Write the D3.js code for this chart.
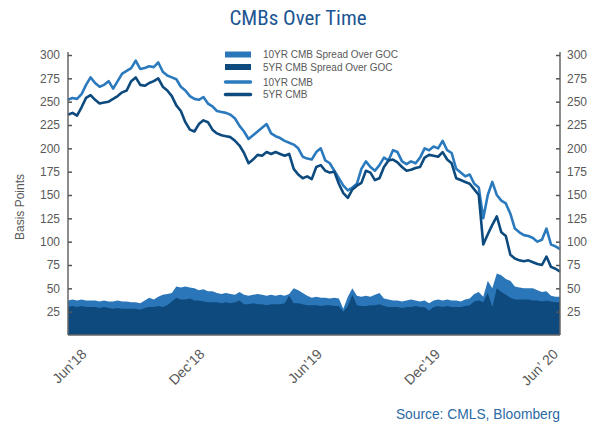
<!DOCTYPE html>
<html>
<head>
<meta charset="utf-8">
<script src="https://cdn.jsdelivr.net/npm/d3@7"></script>
<style>
  body { margin: 0; background: #fff; }
  text { font-family: "Liberation Sans", Arial, sans-serif; }
</style>
</head>
<body>
<div id="chart"></div>
<script>
// weekly observations, starting 11 May 2018
const startDate = "2018-05-11";

const cmb10 = [252,254,253,258,268,276,270,266,268,272, 264,272,280,283,286,294,285,286,288,287,
  292,282,278,276,274,266,262,256,253,252, 255,248,245,240,239,238,236,232,224,218,
  210,214,218,222,226,216,213,211,208,206, 204,200,191,189,188,196,200,187,184,176,
  168,160,155,158,162,178,186,180,176,182, 190,187,198,196,186,183,186,184,190,200,
  198,202,200,208,198,195,178,174,170,172, 162,158,125,150,164,150,144,141,130,114,
  110,107,106,104,100,102,114,97,95,92];

const cmb5 = [236,238,235,244,254,257,252,248,249,250, 253,256,260,262,272,276,268,267,270,272,
  275,266,262,256,246,240,228,220,218,226, 230,228,220,216,214,213,212,208,203,195,
  184,188,193,192,196,194,196,194,192,194, 178,172,168,170,167,180,182,176,174,175,
  162,152,147,156,160,163,176,174,166,168, 180,187,188,185,180,176,177,179,180,190,
  193,192,191,196,188,184,168,166,164,162, 156,150,97,108,118,127,110,106,86,82,
  80,79,80,78,76,75,84,73,71,68];

const spread10 = [37,38,37,38,37,37,37,36,37,36, 36,37,36,36,35,35,34,37,40,38,
  41,43,44,45,52,51,52,51,50,48, 49,47,47,45,44,45,44,43,46,43,
  42,43,44,43,42,43,42,43,42,44, 50,48,45,42,40,41,40,40,39,40,
  39,28,41,50,42,41,42,41,43,45, 39,38,37,37,36,37,38,37,36,37,
  34,37,38,37,38,37,37,36,38,39, 44,46,41,58,50,66,64,60,58,52,
  51,50,50,50,48,46,47,42,41,41];

const spread5 = [30,31,30,31,30,30,30,29,30,29, 28,29,28,28,28,28,27,29,30,30,
  31,30,32,36,40,38,38,39,37,37, 36,35,35,35,34,35,34,35,37,33,
  33,34,33,33,32,33,33,33,34,42, 34,34,33,32,32,32,31,32,32,31,
  31,25,31,43,32,31,31,32,32,33, 31,30,30,30,29,30,30,31,30,30,
  26,30,31,30,31,30,30,30,31,32, 36,37,35,45,30,50,46,43,40,38,
  38,38,38,37,37,36,37,36,35,35];

const yTicks = [25,50,75,100,125,150,175,200,225,250,275,300];
const xTickDates = ["2018-06-01","2018-12-01","2019-06-01","2019-12-01","2020-06-01"];
const xTickLabels = ["Jun\u201918","Dec\u201918","Jun\u201919","Dec\u201919","Jun\u2019 20"];

const legendNames = ["10YR CMB Spread Over GOC","5YR CMB Spread Over GOC","10YR CMB","5YR CMB"];

const W = 595, H = 427;
const plotL = 68, plotR = 560, plotT = 55, plotB = 335;

const c10 = "#2b7abd", c5 = "#0d4a7e";
const grey = "#595959";

const parse = d3.timeParse("%Y-%m-%d");
const t0 = parse(startDate);
const dates = cmb10.map((_, i) => d3.timeDay.offset(t0, i * 7));
const rows = dates.map((d, i) => ({date: d, c10: cmb10[i], c5: cmb5[i], s10: spread10[i], s5: spread5[i]}));

const svg = d3.select("#chart").append("svg")
  .attr("width", W).attr("height", H);

const x = d3.scaleTime()
  .domain([dates[0], dates[dates.length - 1]])
  .range([plotL, plotR]);

const y = d3.scaleLinear()
  .domain([0, 300])
  .range([plotB, plotT]);

// areas
const area = key => d3.area().x(d => x(d.date)).y0(y(0)).y1(d => y(d[key]));
svg.append("path").datum(rows).attr("d", area("s10")).attr("fill", "#2a76b9");
svg.append("path").datum(rows).attr("d", area("s5")).attr("fill", "#0e4a7d");

// lines
const line = key => d3.line().x(d => x(d.date)).y(d => y(d[key]));
svg.append("path").datum(rows).attr("d", line("c10"))
  .attr("fill", "none").attr("stroke", c10).attr("stroke-width", 2.6).attr("stroke-linejoin", "round");
svg.append("path").datum(rows).attr("d", line("c5"))
  .attr("fill", "none").attr("stroke", c5).attr("stroke-width", 2.6).attr("stroke-linejoin", "round");

// axes
const axL = svg.append("g").attr("transform", `translate(${plotL},0)`)
  .call(d3.axisLeft(y).tickValues(yTicks).tickSize(-4).tickPadding(8));
const axR = svg.append("g").attr("transform", `translate(${plotR},0)`)
  .call(d3.axisRight(y).tickValues(yTicks).tickSize(-4).tickPadding(7));
[axL, axR].forEach(g => {
  g.select(".domain").attr("d", `M0,${plotT - 3}V${plotB}`).attr("stroke", "#666").attr("stroke-width", 1.5);
  g.selectAll(".tick line").attr("stroke", "#555").attr("stroke-width", 1.5);
  g.selectAll(".tick text").attr("fill", grey).style("font-size", "12px")
    .style("font-family", "'Liberation Sans', Arial, sans-serif");
});

svg.append("line")
  .attr("x1", plotL).attr("x2", plotR).attr("y1", plotB).attr("y2", plotB)
  .attr("stroke", "#666").attr("stroke-width", 1.5);

// x labels
svg.selectAll(".xlab")
  .data(xTickDates)
  .enter()
  .append("text")
  .attr("class", "xlab")
  .attr("transform", d => `translate(${x(parse(d)) + 6},${plotB + 20}) rotate(-45)`)
  .attr("text-anchor", "end")
  .attr("fill", grey)
  .style("font-size", "14px")
  .text((d, i) => xTickLabels[i]);

// y title
svg.append("text")
  .attr("transform", "translate(24,207) rotate(-90)")
  .attr("text-anchor", "middle")
  .attr("fill", grey)
  .style("font-size", "12px")
  .text("Basis Points");

// title
svg.append("text")
  .attr("x", 298).attr("y", 25)
  .attr("text-anchor", "middle")
  .attr("fill", "#1d5693")
  .style("font-family", "'Liberation Sans Narrow', 'Roboto Condensed', Arial, sans-serif")
  .style("font-size", "21px")
  .text("CMBs Over Time");

// legend
const lg = svg.append("g");
const legY = [54.5, 67, 82, 94.5];
legendNames.forEach((name, i) => {
  if (i < 2) {
    lg.append("rect").attr("x", 225).attr("y", legY[i] - 3).attr("width", 26).attr("height", 6)
      .attr("fill", i === 0 ? "#2a76b9" : "#0e4a7d");
  } else {
    lg.append("line").attr("x1", 225.5).attr("x2", 250.5).attr("y1", legY[i]).attr("y2", legY[i])
      .attr("stroke", i === 2 ? c10 : c5).attr("stroke-width", 3.5).attr("stroke-linecap", "round");
  }
  lg.append("text").attr("x", 263).attr("y", legY[i] + 3.5)
    .attr("fill", grey).style("font-size", "10px").text(name);
});

// source
svg.append("text")
  .attr("x", 560).attr("y", 419)
  .attr("text-anchor", "end")
  .attr("fill", "#2c6aa5")
  .style("font-size", "13.8px")
  .text("Source: CMLS, Bloomberg");
</script>
</body>
</html>
